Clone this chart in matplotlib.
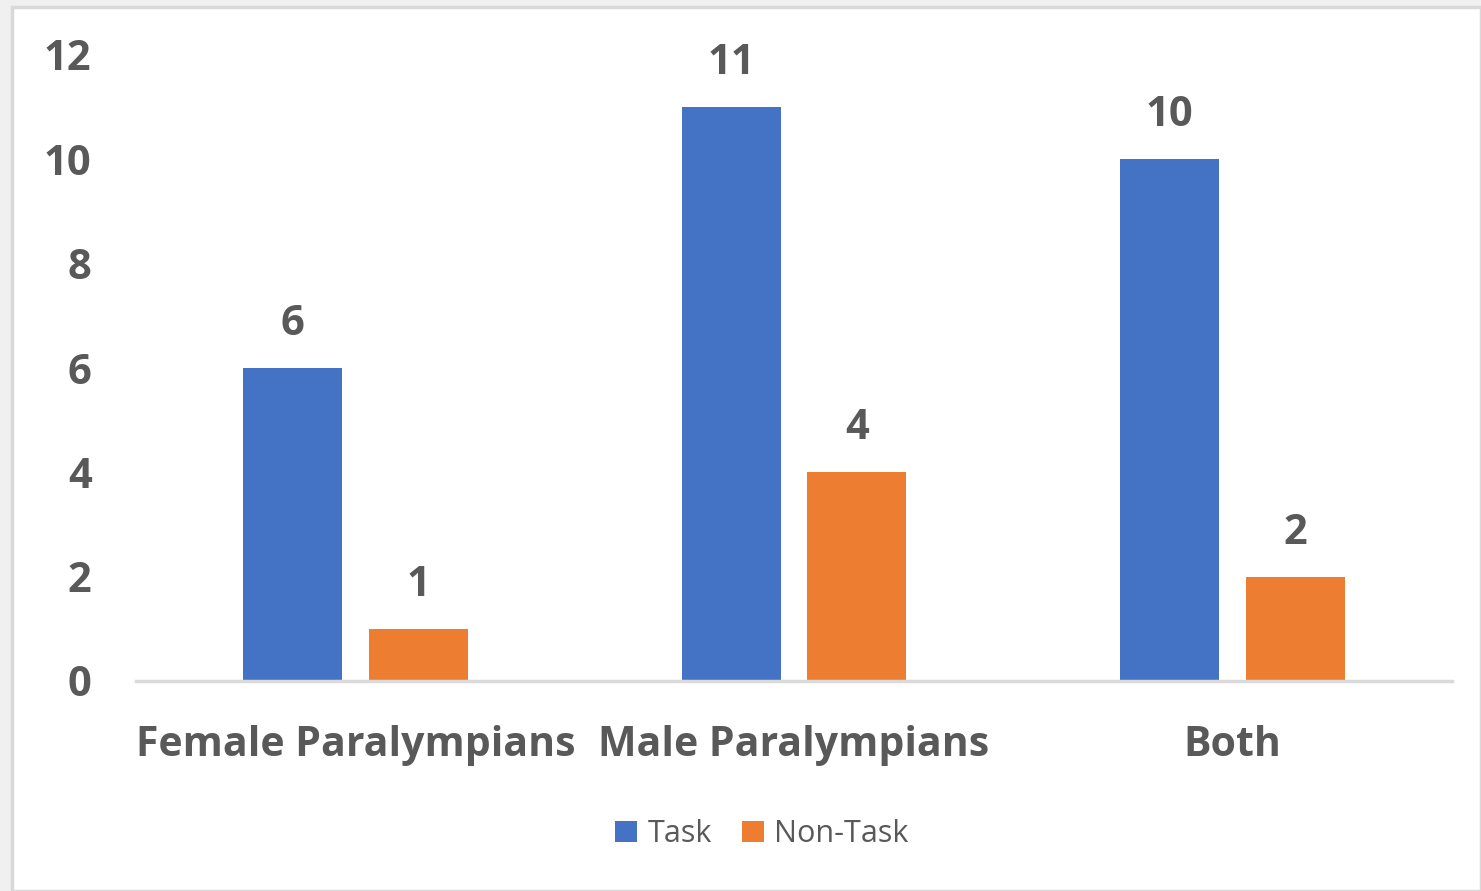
import matplotlib
matplotlib.use("Agg")
import matplotlib.pyplot as plt
from matplotlib.patches import Rectangle
import numpy as np

categories = ["Female Paralympians", "Male Paralympians", "Both"]
task = [6, 11, 10]
non_task = [1, 4, 2]
series_names = ["Task", "Non-Task"]
y_ticks = [0, 2, 4, 6, 8, 10, 12]

BLUE = "#4472C4"
ORANGE = "#ED7D31"
TXT = "#595959"
FONT = "Open Sans"

fig = plt.figure(figsize=(14.81, 8.91), dpi=100, facecolor="#f0f0f0")
fig.patches.append(Rectangle((12/1481, 0), 1 - 12/1481, 1 - 7/891, transform=fig.transFigure,
                             facecolor="white", edgecolor="#d9d9d9", linewidth=2.5, zorder=-10))

ax = fig.add_axes([136/1481, 210/891, 1316/1481, 626/891])
ax.set_zorder(1)
ax.set_facecolor("none")
x = np.arange(len(categories))
w = 0.2257
off = 0.1436
b1 = ax.bar(x - off, task, w, color=BLUE, label=series_names[0], zorder=2)
b2 = ax.bar(x + off, non_task, w, color=ORANGE, label=series_names[1], zorder=2)
for bars in (b1, b2):
    for r in bars:
        ax.annotate(f"{int(r.get_height())}", (r.get_x() + r.get_width()/2, r.get_height()),
                    xytext=(0, 16.5), textcoords="offset points", ha="center", va="bottom",
                    fontsize=30, fontweight="bold", color=TXT, family=FONT)

ax.set_xlim(-0.5, 2.5)
ax.set_ylim(0, 12)
ax.set_yticks(y_ticks)
ax.set_yticklabels([str(t) for t in y_ticks], fontsize=30, fontweight="bold", color=TXT, family=FONT)
ax.set_xticks(x)
ax.set_xticklabels(categories, fontsize=29.5, fontweight="bold", color=TXT, family=FONT)
ax.tick_params(axis="y", length=0, pad=32)
ax.tick_params(axis="x", length=0, pad=32)
for s in ("top", "right", "left"):
    ax.spines[s].set_visible(False)
ax.spines["bottom"].set_color("#d9d9d9")
ax.spines["bottom"].set_linewidth(2.5)

leg = fig.legend(handles=[b1, b2], labels=series_names, loc="center", bbox_to_anchor=(762/1481, 1 - 834/891),
                 ncol=2, frameon=False, handlelength=0.7, handleheight=0.7, handletextpad=0.35,
                 columnspacing=1.0, prop={"family": FONT, "size": 22})
for t in leg.get_texts():
    t.set_color(TXT)

fig.savefig("out.png", dpi=100, facecolor=fig.get_facecolor())
